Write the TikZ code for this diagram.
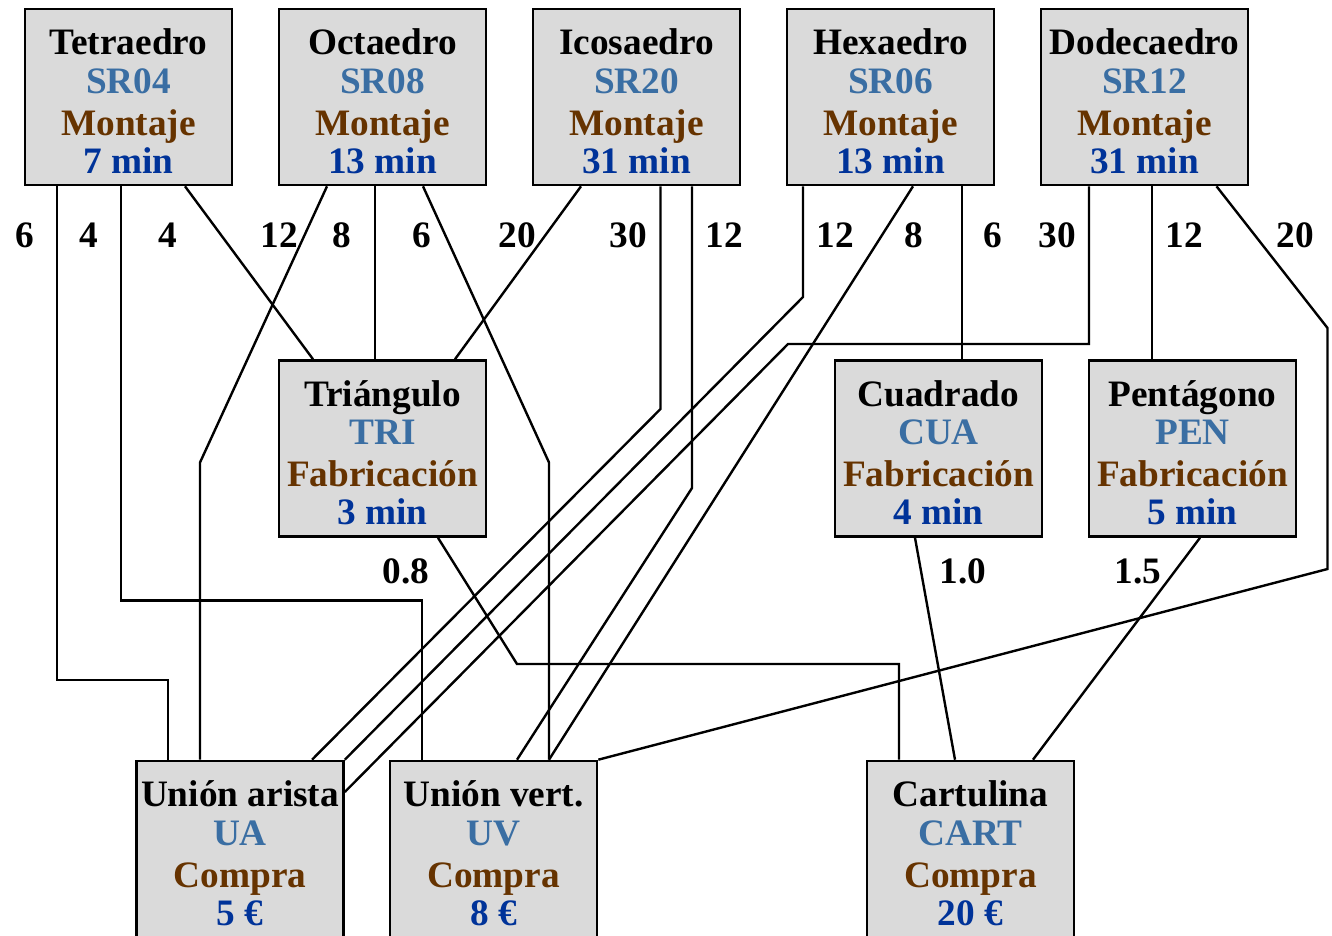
\documentclass[tikz,border=0pt]{standalone}
\usepackage{fontspec}
\setmainfont{Liberation Serif}
\usetikzlibrary{calc}
\definecolor{boxfill}{HTML}{DADADA}
\definecolor{codeblue}{HTML}{3A6EA3}
\definecolor{kindbrown}{HTML}{663300}
\definecolor{valblue}{HTML}{003399}
\tikzset{
  pbox/.style={draw=black, line width=2.6pt, fill=boxfill, minimum width=207pt, minimum height=176pt, inner sep=0pt},
  ptxt/.style={anchor=base, inner sep=0pt, font=\fontsize{37.3}{40}\selectfont\bfseries},
  elabel/.style={anchor=base, inner sep=0pt, font=\fontsize{37.3}{40}\selectfont\bfseries},
  conn/.style={draw=black, line width=2.4pt}
}
\newcommand\partnode[7]{%
  \node[pbox] (#1) at (#2,#3+88) {};
  \node[ptxt] (#1-a) at ($(#1.north)+(0,47)$) {#4};
  \node[ptxt, text=codeblue] (#1-b) at ($(#1.north)+(0,85.5)$) {#5};
  \node[ptxt, text=kindbrown] (#1-c) at ($(#1.north)+(0,127.5)$) {#6};
  \node[ptxt, text=valblue] (#1-d) at ($(#1.north)+(0,165.5)$) {#7};
}
\begin{document}
\begin{tikzpicture}[x=1pt, y=-1pt]
\useasboundingbox (0,0) rectangle (1332,936);
% top row
\partnode{tet}{128.5}{9}{Tetraedro}{SR04}{Montaje}{7 min}
\partnode{oct}{382.5}{9}{Octaedro}{SR08}{Montaje}{13 min}
\partnode{ico}{636.5}{9}{Icosaedro}{SR20}{Montaje}{31 min}
\partnode{hex}{890.5}{9}{Hexaedro}{SR06}{Montaje}{13 min}
\partnode{dod}{1144.5}{9}{Dodecaedro}{SR12}{Montaje}{31 min}
% middle row
\partnode{tri}{382.5}{360.5}{Triángulo}{TRI}{Fabricación}{3 min}
\partnode{cua}{938.5}{360.5}{Cuadrado}{CUA}{Fabricación}{4 min}
\partnode{pen}{1192.5}{360.5}{Pentágono}{PEN}{Fabricación}{5 min}
% bottom row
\partnode{ua}{240}{761}{Unión arista}{UA}{Compra}{5 €}
\partnode{uv}{493.5}{761}{Unión vert.}{UV}{Compra}{8 €}
\partnode{cart}{970.5}{761}{Cartulina}{CART}{Compra}{20 €}
% connectors
\draw[conn] (tet.south -| 57,0) -- (57,680) -- (168,680) -- (ua.north -| 168,0);
\draw[conn] (tet.south -| 121,0) -- (121,600.5) -- (422,600.5) -- (uv.north -| 422,0);
\draw[conn] (tet.south -| 185,0) -- (tri.north -| 313,0);
\draw[conn] (oct.south -| 327,0) -- (200,462.5) -- (ua.north -| 200,0);
\draw[conn] (oct.south -| 375,0) -- (tri.north -| 375,0);
\draw[conn] (oct.south -| 423,0) -- (549,462.5) -- (uv.north -| 549,0);
\draw[conn] (ico.south -| 581,0) -- (tri.north -| 455,0);
\draw[conn] (ico.south -| 660.5,0) -- (660.5,409) -- (ua.north -| 312,0);
\draw[conn] (ico.south -| 692,0) -- (692,488) -- (uv.north -| 517,0);
\draw[conn] (hex.south -| 803,0) -- (803,297) -- (ua.north east);
\draw[conn] (hex.south -| 913,0) -- (uv.north -| 549,0);
\draw[conn] (hex.south -| 962,0) -- (cua.north -| 962,0);
\draw[conn] (dod.south -| 1089,0) -- (1089,344) -- (788,344) -- (ua.east |- 0,792);
\draw[conn] (dod.south -| 1152,0) -- (pen.north -| 1152,0);
\draw[conn] (dod.south -| 1216.5,0) -- (1327.5,328) -- (1327.5,569) -- (uv.north east);
\draw[conn] (tri.south -| 438,0) -- (517,664) -- (899,664) -- (cart.north -| 899,0);
\draw[conn] (cua.south -| 915,0) -- (cart.north -| 955,0);
\draw[conn] (pen.south -| 1200,0) -- (cart.north -| 1033,0);
% labels
\node[elabel] (l1) at (25,247.5) {6};
\node[elabel] (l2) at (88.5,247.5) {4};
\node[elabel] (l3) at (168,247.5) {4};
\node[elabel] (l4) at (279,247.5) {12};
\node[elabel] (l5) at (342,247.5) {8};
\node[elabel] (l6) at (422,247.5) {6};
\node[elabel] (l7) at (517,247.5) {20};
\node[elabel] (l8) at (628,247.5) {30};
\node[elabel] (l9) at (724,247.5) {12};
\node[elabel] (l10) at (835,247.5) {12};
\node[elabel] (l11) at (914,247.5) {8};
\node[elabel] (l12) at (993,247.5) {6};
\node[elabel] (l13) at (1057,247.5) {30};
\node[elabel] (l14) at (1184,247.5) {12};
\node[elabel] (l15) at (1295,247.5) {20};
\node[elabel] (l16) at (406,583) {0.8};
\node[elabel] (l17) at (963,583) {1.0};
\node[elabel] (l18) at (1138,583) {1.5};
\end{tikzpicture}
\end{document}
